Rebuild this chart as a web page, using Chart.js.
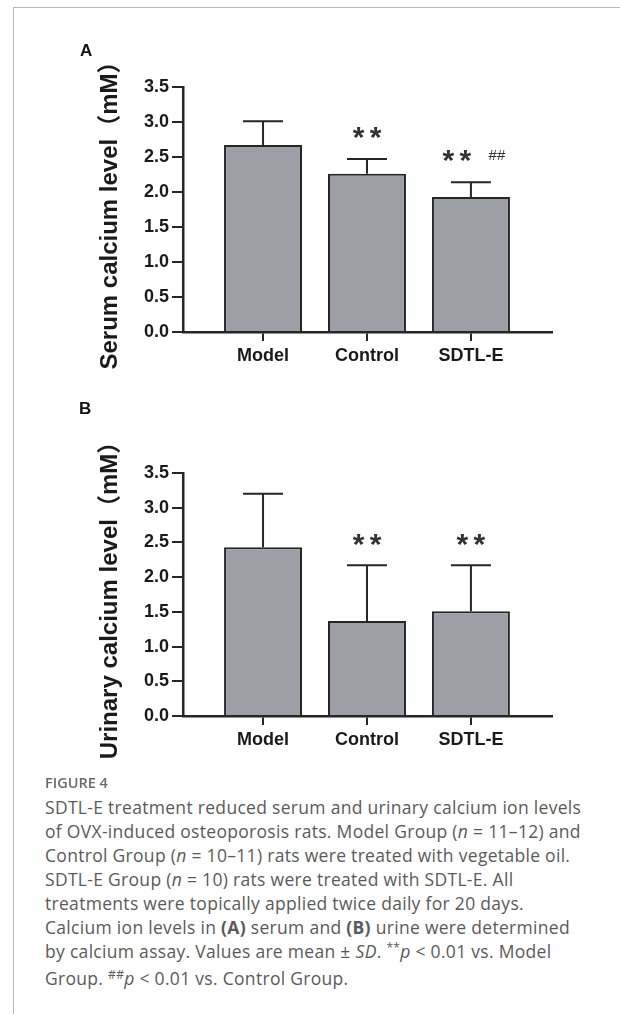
<!DOCTYPE html>
<html>
<head>
<meta charset="utf-8">
<script src="https://cdn.jsdelivr.net/npm/chart.js@4.4.0/dist/chart.umd.min.js"></script>
<style>
  html, body { margin: 0; padding: 0; background: #fff; }
  body { width: 620px; height: 1014px; position: relative; overflow: hidden; }
  .frame { position: absolute; left: 13px; top: 7px; right: -2px; bottom: -2px;
           border-left: 1px solid #b8b8b8; border-top: 1px solid #b8b8b8; }
  .box { position: absolute; left: 0; width: 620px; height: 390px; }
  .panel { position: absolute; font: bold 17px 'Liberation Sans', Arial, sans-serif; color: #111; line-height: 20px; }
  .caption { position: absolute; left: 45px; top: 795px; width: 570px;
             font-family: 'Open Sans', sans-serif; font-size: 17.5px; letter-spacing: 0.3px;
             line-height: 24px; color: #5a5a5a; }
  .caption div { white-space: nowrap; }
  .fig { position: absolute; left: 45px; top: 773px; font: 600 14.5px 'Open Sans', sans-serif;
         line-height: 20px; color: #6a6a6a; }
  .sup { font-size: 12px; position: relative; top: -6px; }
</style>
</head>
<body>
<div class="frame"></div>

<div class="box" style="top:0px"><canvas id="chartA"></canvas></div>
<div class="box" style="top:390px"><canvas id="chartB"></canvas></div>

<div class="panel" style="left:80px; top:41px">A</div>
<div class="panel" style="left:79px; top:399px">B</div>

<div class="fig">FIGURE 4</div>
<div class="caption">
  <div>SDTL-E treatment reduced serum and urinary calcium ion levels</div>
  <div>of OVX-induced osteoporosis rats. Model Group (<i>n</i> = 11–12) and</div>
  <div>Control Group (<i>n</i> = 10–11) rats were treated with vegetable oil.</div>
  <div>SDTL-E Group (<i>n</i> = 10) rats were treated with SDTL-E. All</div>
  <div>treatments were topically applied twice daily for 20 days.</div>
  <div>Calcium ion levels in <b>(A)</b> serum and <b>(B)</b> urine were determined</div>
  <div>by calcium assay. Values are mean ± <i>SD</i>. <span class="sup">**</span><i>p</i> &lt; 0.01 vs. Model</div>
  <div>Group. <span class="sup">##</span><i>p</i> &lt; 0.01 vs. Control Group.</div>
</div>

<script>
// groups
let groups = ['Model', 'Control', 'SDTL-E'];

// A: serum calcium (mM), mean and SD
let serumMean = [2.67, 2.26, 1.93];
let serumSD = [0.34, 0.21, 0.21];
let serumStars = ['', '**', '**'];
let serumHash = ['', '', '##'];

// B: urinary calcium (mM), mean and SD
let urineMean = [2.43, 1.37, 1.51];
let urineSD = [0.77, 0.80, 0.66];
let urineStars = ['', '**', '**'];
let urineHash = ['', '', ''];

let yTicks = [0, 0.5, 1.0, 1.5, 2.0, 2.5, 3.0, 3.5];

const ink = '#262626';
Chart.defaults.font.family = "'Liberation Sans', Arial, sans-serif";
Chart.defaults.color = '#222';

// error bars (upper only) + significance marks
const errorBars = {
    id: 'errorBars',
    afterDatasetsDraw(chart, args, opts) {
        const ctx = chart.ctx;
        const y = chart.scales.y;
        const bars = chart.getDatasetMeta(0).data;
        ctx.save();
        ctx.strokeStyle = ink;
        ctx.lineWidth = 2;
        bars.forEach((bar, i) => {
            const top = y.getPixelForValue(opts.means[i] + opts.sds[i]);
            ctx.beginPath();
            ctx.moveTo(bar.x, bar.y);
            ctx.lineTo(bar.x, top);
            ctx.moveTo(bar.x - 20, top);
            ctx.lineTo(bar.x + 20, top);
            ctx.stroke();

            const markY = y.getPixelForValue(opts.means[i] + opts.sds[i] + 0.4);
            ctx.fillStyle = '#333';
            ctx.textAlign = 'center';
            ctx.textBaseline = 'alphabetic';
            if (opts.stars[i]) {
                const cx = opts.hashes[i] ? bar.x - 14 : bar.x;
                ctx.font = "bold 30px 'Liberation Sans', Arial, sans-serif";
                ctx.fillText('*', cx - 8.5, markY + 16);
                ctx.fillText('*', cx + 8.5, markY + 16);
            }
            if (opts.hashes[i]) {
                ctx.font = "15px 'Liberation Sans', Arial, sans-serif";
                ctx.fillText(opts.hashes[i], bar.x + 26, markY + 5.5);
            }
        });
        ctx.restore();
    }
};

function makeChart(id, means, sds, stars, hashes, title, padTop, padBottom) {
    const el = document.getElementById(id).getContext('2d');
    return new Chart(el, {
        type: 'bar',
        data: {
            datasets: [{
                data: means.map((v, i) => ({ x: i + 1, y: v })),
                backgroundColor: '#9d9fa7',
                borderColor: ink,
                borderWidth: 2,
                categoryPercentage: 1,
                barPercentage: 0.75
            }]
        },
        options: {
            responsive: true,
            maintainAspectRatio: false,
            animation: false,
            layout: { padding: { left: 80, top: padTop, right: 68, bottom: padBottom } },
            scales: {
                x: {
                    type: 'linear',
                    offset: false,
                    min: 0.23,
                    max: 3.78,
                    afterBuildTicks: (scale) => { scale.ticks = groups.map((g, i) => ({ value: i + 1 })); },
                    afterFit: (scale) => { scale.height = 50; },
                    ticks: {
                        autoSkip: false,
                        maxRotation: 0,
                        padding: 4,
                        font: { size: 18, weight: 'bold' },
                        color: '#1a1a1a',
                        callback: (v) => groups[v - 1]
                    },
                    grid: { offset: false, drawOnChartArea: false, drawTicks: true, tickLength: 9, color: ink, lineWidth: 2 },
                    border: { display: true, color: ink, width: 2.5 }
                },
                y: {
                    min: 0,
                    max: 3.5,
                    afterBuildTicks: (scale) => { scale.ticks = yTicks.map(v => ({ value: v })); },
                    afterFit: (scale) => { scale.width = 103; },
                    ticks: {
                        padding: 3,
                        font: { size: 18, weight: 'bold' },
                        color: '#1a1a1a',
                        callback: (v) => v.toFixed(1)
                    },
                    grid: { drawOnChartArea: false, drawTicks: true, tickLength: 11, color: ink, lineWidth: 2 },
                    border: { display: true, color: ink, width: 2.5 },
                    title: {
                        display: true,
                        text: title,
                        padding: { top: 16, bottom: 0 },
                        color: '#1a1a1a',
                        font: { size: 24, weight: 'bold', family: "'Liberation Sans', 'Noto Sans CJK SC', sans-serif" }
                    }
                }
            },
            plugins: {
                legend: { display: false },
                tooltip: { enabled: false },
                errorBars: { means: means, sds: sds, stars: stars, hashes: hashes }
            }
        },
        plugins: [errorBars]
    });
}

makeChart('chartA', serumMean, serumSD, serumStars, serumHash, 'Serum calcium level（mM）', 87, 8);
makeChart('chartB', urineMean, urineSD, urineStars, urineHash, 'Urinary calcium level（mM）', 83, 14);
</script>
</body>
</html>
